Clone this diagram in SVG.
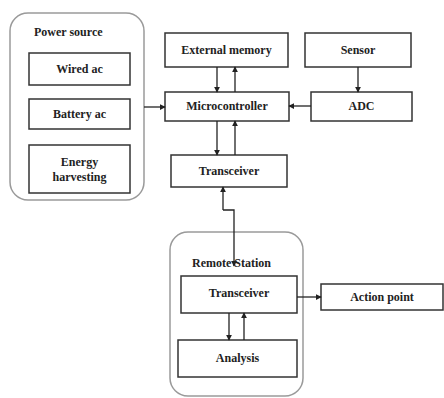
<svg xmlns="http://www.w3.org/2000/svg" width="444" height="398" viewBox="0 0 444 398">
<defs>
<marker id="ah" viewBox="0 0 8 8" refX="7" refY="4" markerWidth="6" markerHeight="6" orient="auto" markerUnits="userSpaceOnUse">
<path d="M0,0 L8,4 L0,8 z" fill="#222"/>
</marker>
<style>
.box{fill:#fff;stroke:#333;stroke-width:1.5}
.grp{fill:#fff;stroke:#9a9a9a;stroke-width:1.5}
.t{font-family:"Liberation Serif","Times New Roman",serif;font-size:12px;font-weight:bold;fill:#222;text-anchor:middle}
.tl{font-family:"Liberation Serif","Times New Roman",serif;font-size:12px;font-weight:bold;fill:#222}
.c{fill:none;stroke:#222;stroke-width:1.3;marker-end:url(#ah)}
</style>
</defs>
<rect width="444" height="398" fill="#fff"/>
<g id="power-source">
<rect class="grp" x="10" y="13" width="134" height="187" rx="18"/>
<text class="tl" x="34" y="36">Power source</text>
</g>
<g id="wired-ac">
<rect class="box" x="29" y="53" width="101" height="32"/>
<text class="t" x="79.5" y="73">Wired ac</text>
</g>
<g id="battery-ac">
<rect class="box" x="29" y="99" width="101" height="30"/>
<text class="t" x="79.5" y="118">Battery ac</text>
</g>
<g id="energy-harvesting">
<rect class="box" x="29" y="145" width="101" height="48"/>
<text class="t" x="79.5" y="166">Energy</text>
<text class="t" x="79.5" y="181">harvesting</text>
</g>
<g id="remote-station">
<rect class="grp" x="170" y="232" width="133" height="164" rx="18"/>
<text class="tl" x="192" y="267">Remote Station</text>
</g>
<g id="external-memory">
<rect class="box" x="165" y="33" width="123" height="34"/>
<text class="t" x="226.5" y="54">External memory</text>
</g>
<g id="sensor">
<rect class="box" x="305" y="33" width="106" height="34"/>
<text class="t" x="358" y="54">Sensor</text>
</g>
<g id="microcontroller">
<rect class="box" x="165" y="92" width="124" height="29"/>
<text class="t" x="227" y="110">Microcontroller</text>
</g>
<g id="adc">
<rect class="box" x="311" y="92" width="101" height="29"/>
<text class="t" x="361.5" y="110">ADC</text>
</g>
<g id="transceiver">
<rect class="box" x="171" y="155" width="116" height="32"/>
<text class="t" x="229" y="175">Transceiver</text>
</g>
<g id="remote-transceiver">
<rect class="box" x="181" y="276" width="116" height="37"/>
<text class="t" x="239" y="297">Transceiver</text>
</g>
<g id="analysis">
<rect class="box" x="178" y="340" width="119" height="37"/>
<text class="t" x="237.5" y="362">Analysis</text>
</g>
<g id="action-point">
<rect class="box" x="321" y="284" width="122" height="26"/>
<text class="t" x="382" y="301">Action point</text>
</g>
<g id="connectors">
<path class="c" d="M144,107 L165,107"/>
<path class="c" d="M217,67 L217,92"/>
<path class="c" d="M235,92 L235,67"/>
<path class="c" d="M358,67 L358,92"/>
<path class="c" d="M311,106 L289,106"/>
<path class="c" d="M217,121 L217,155"/>
<path class="c" d="M235,155 L235,121"/>
<path class="c" d="M223,210 L223,187"/>
<path class="c" d="M223,210 L234,210 L234,266"/>
<path class="c" d="M229,313 L229,340"/>
<path class="c" d="M244,340 L244,313"/>
<path class="c" d="M297,297 L321,297"/>
</g>
</svg>
